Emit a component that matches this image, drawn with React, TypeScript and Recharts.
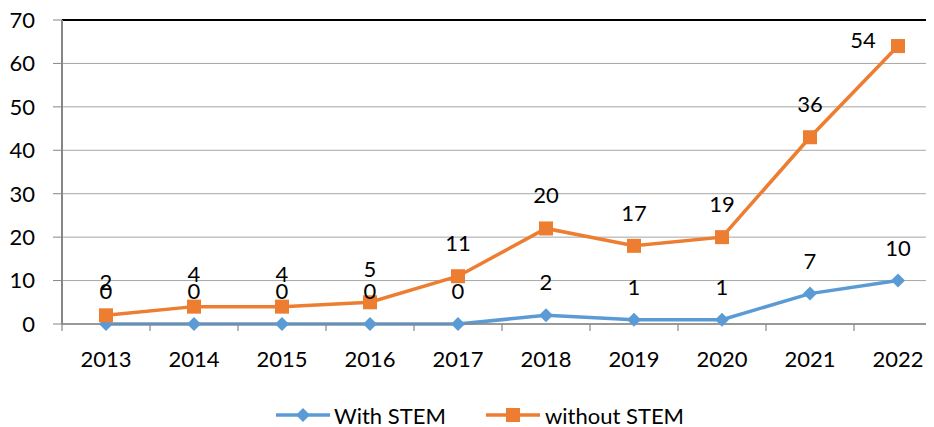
import React from 'react';
import {
  ComposedChart,
  Area,
  XAxis,
  YAxis,
  CartesianGrid,
  ReferenceLine,
  Legend,
  LabelList,
} from 'recharts';

const years = ['2013', '2014', '2015', '2016', '2017', '2018', '2019', '2020', '2021', '2022'];
const withStem = [0, 0, 0, 0, 0, 2, 1, 1, 7, 10];
const withoutStem = [2, 4, 4, 5, 11, 20, 17, 19, 36, 54];
const yTicks = [0, 10, 20, 30, 40, 50, 60, 70];
const seriesNames = ['With STEM', 'without STEM'];

const data = years.map((y, i) => ({ year: y, with: withStem[i], without: withoutStem[i] }));

const BLUE = '#5B9BD5';
const ORANGE = '#ED7D31';
const FONT = 'Lato, "Open Sans", sans-serif';

const Diamond = ({ cx, cy, s = 7, color = BLUE }: any) => (
  <path d={`M${cx},${cy - s} L${cx + s},${cy} L${cx},${cy + s} L${cx - s},${cy} Z`} fill={color} stroke="none" />
);
const Square = ({ cx, cy, s = 7, color = ORANGE }: any) => (
  <rect x={cx - s} y={cy - s} width={2 * s} height={2 * s} fill={color} stroke="none" />
);

const blueDot = (p: any) =>
  p.cx == null ? <g key={`b${p.index}`} /> : <Diamond key={`b${p.index}`} cx={p.cx} cy={p.cy} />;
const orangeDot = (p: any) =>
  p.cx == null ? <g key={`o${p.index}`} /> : <Square key={`o${p.index}`} cx={p.cx} cy={p.cy} />;

const makeLabel = (values: number[], overrides: Record<number, { dx: number; dy: number }>) => (p: any) => {
  const idx = p.index;
  const x = p.x ?? p.viewBox?.x;
  const y = p.y ?? p.viewBox?.y;
  if (x == null || y == null) return null;
  const o = overrides[idx] || { dx: 0, dy: -25 };
  return (
    <text
      x={x + o.dx}
      y={y + o.dy}
      textAnchor="middle"
      fontFamily={FONT}
      fontSize={22}
      fill="#000"
    >
      {values[idx]}
    </text>
  );
};

const XTick = (p: any) => {
  const { x, y, payload } = p;
  return (
    <g>
      <line x1={x - 44} y1={y} x2={x - 44} y2={y + 7} stroke="#868686" strokeWidth={1.2} />
      <text x={x} y={y + 43} textAnchor="middle" fontFamily={FONT} fontSize={22} fill="#000">
        {payload.value}
      </text>
    </g>
  );
};

const LegendContent = () => (
  <div style={{ position: 'relative', height: 24, fontFamily: FONT, fontSize: 22, color: '#000' }}>
    <div style={{ position: 'absolute', left: 268, top: 0, display: 'flex', alignItems: 'center', height: 24 }}>
      <svg width={54} height={16}>
        <line x1={0} y1={8} x2={54} y2={8} stroke={BLUE} strokeWidth={3.5} />
        <Diamond cx={27} cy={8} s={7} />
      </svg>
      <span style={{ marginLeft: 4, whiteSpace: 'nowrap' }}>{seriesNames[0]}</span>
    </div>
    <div style={{ position: 'absolute', left: 478, top: 0, display: 'flex', alignItems: 'center', height: 24 }}>
      <svg width={54} height={16}>
        <line x1={0} y1={8} x2={54} y2={8} stroke={ORANGE} strokeWidth={3.5} />
        <Square cx={27} cy={8} s={7} />
      </svg>
      <span style={{ marginLeft: 5, whiteSpace: 'nowrap' }}>{seriesNames[1]}</span>
    </div>
  </div>
);

export default function App() {
  return (
    <div style={{ width: 926, height: 419, overflow: 'hidden', position: 'relative' }}>
      <ComposedChart
        width={934}
        height={419}
        data={data}
        margin={{ top: 12, right: 0, left: 0, bottom: 0 }}
      >
        <CartesianGrid vertical={false} stroke="#a6a6a6" strokeWidth={1} />
        <XAxis
          dataKey="year"
          scale="point"
          padding={{ left: 44, right: 44 }}
          height={79}
          tickLine={false}
          tickSize={0}
          tickMargin={0}
          axisLine={{ stroke: '#868686', strokeWidth: 1.5 }}
          tick={<XTick />}
          interval={0}
        />
        <YAxis
          domain={[0, 70]}
          ticks={yTicks}
          width={54}
          tickSize={9}
          tickMargin={18}
          tickLine={{ stroke: '#868686', strokeWidth: 1 }}
          axisLine={{ stroke: '#868686', strokeWidth: 2 }}
          tick={{ fontFamily: FONT, fontSize: 22, fill: '#000' }}
          interval={0}
        />
        <ReferenceLine y={70} stroke="#000" strokeWidth={2} />
        <Legend verticalAlign="bottom" height={24} content={<LegendContent />} />
        <Area
          type="linear"
          dataKey="with"
          name={seriesNames[0]}
          stackId="s"
          stroke={BLUE}
          strokeWidth={3.5}
          fill="none"
          dot={blueDot}
          activeDot={false}
          isAnimationActive={false}
        >
          <LabelList dataKey="with" content={makeLabel(withStem, {})} />
        </Area>
        <Area
          type="linear"
          dataKey="without"
          name={seriesNames[1]}
          stackId="s"
          stroke={ORANGE}
          strokeWidth={3.5}
          fill="none"
          dot={orangeDot}
          activeDot={false}
          isAnimationActive={false}
        >
          <LabelList dataKey="without" content={makeLabel(withoutStem, { 9: { dx: -35, dy: 2 } })} />
        </Area>
      </ComposedChart>
    </div>
  );
}
